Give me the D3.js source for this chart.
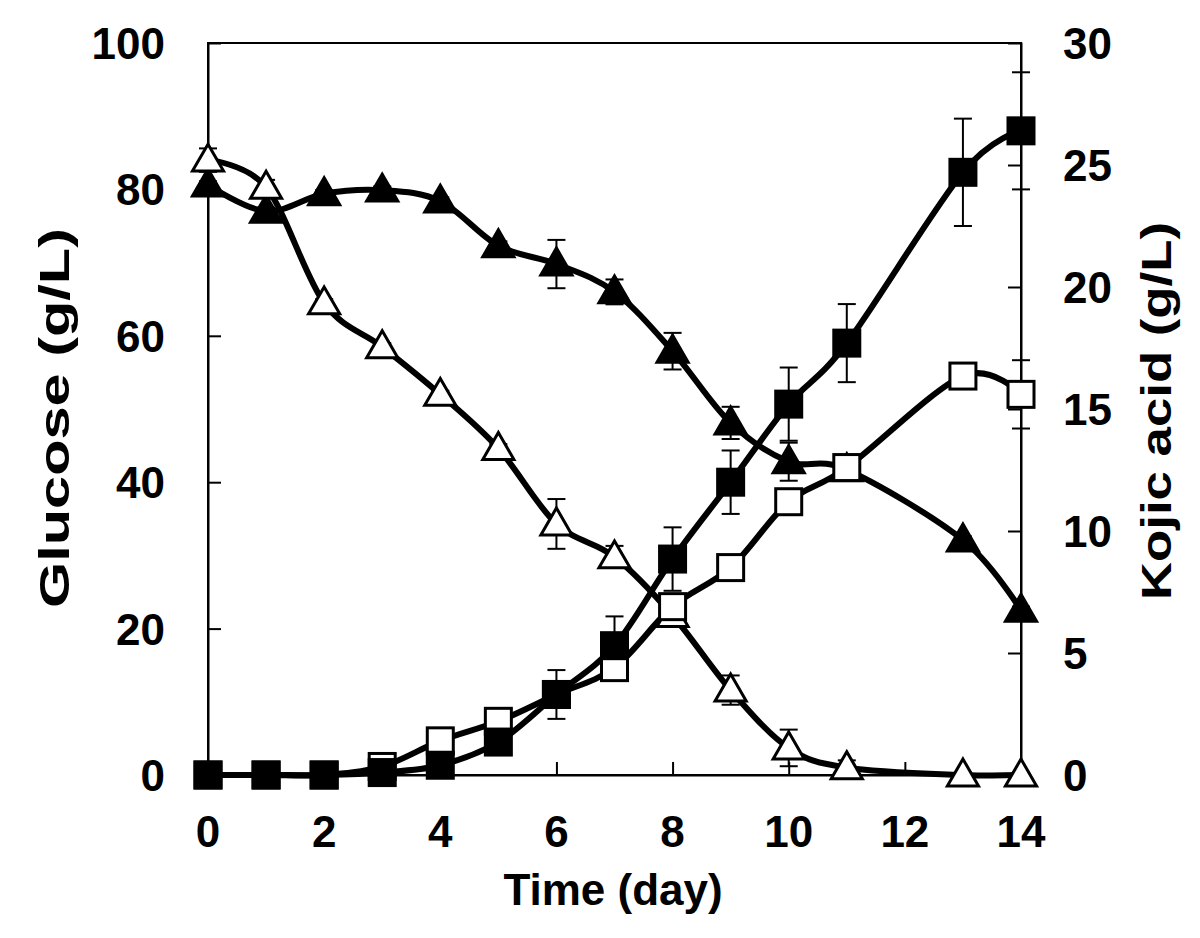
<!DOCTYPE html>
<html>
<head>
<meta charset="utf-8">
<script src="https://cdn.jsdelivr.net/npm/d3@7"></script>
<style>
  html, body { margin: 0; padding: 0; background: #fff; }
  svg { display: block; font-family: "Liberation Sans", Arial, sans-serif; font-weight: bold; }
</style>
</head>
<body>
<svg id="chart" width="1200" height="938"></svg>
<script>
// days sampled (no day 12)
const days = [0, 1, 2, 3, 4, 5, 6, 7, 8, 9, 10, 11, 13, 14];

// glucose (g/L), left axis
const glucoseFilled = [80.6, 77, 79.4, 79.9, 78.4, 72.3, 69.8, 66, 57.9, 48.1, 42.8, 41.7, 32.1, 22.5];
const glucoseFilledErr = [0.5, 0.5, 0.5, 0.5, 0.5, 0.6, 3.3, 1.7, 2.5, 2.2, 2.6, 0.5, 0.5, 0.5];
const glucoseOpen = [84, 80.3, 64.5, 58.5, 52, 44.6, 34.3, 29.8, 21.8, 11.6, 3.7, 1, 0, 0];
const glucoseOpenErr = [1.6, 1.0, 0.5, 0.5, 0.5, 0.6, 3.4, 1.5, 0.5, 2.0, 2.5, 1.0, 0.3, 0.3];

// kojic acid (g/L), right axis
const kojicFilled = [0, 0, 0, 0.1, 0.4, 1.35, 3.3, 5.3, 8.85, 12.0, 15.2, 17.7, 24.7, 26.4];
const kojicFilledErr = [0, 0, 0, 0, 0.1, 0.2, 1.0, 1.2, 1.3, 1.3, 1.5, 1.6, 2.2, 2.4];
const kojicOpen = [0, 0, 0, 0.35, 1.4, 2.2, 3.3, 4.4, 6.9, 8.5, 11.2, 12.6, 16.35, 15.6];
const kojicOpenErr = [0, 0, 0, 0.1, 0.1, 0.1, 0.3, 0.3, 0.3, 0.3, 0.3, 0.3, 0.3, 1.4];

const xTicks = [0, 2, 4, 6, 8, 10, 12, 14];
const leftTicks = [0, 20, 40, 60, 80, 100];
const rightTicks = [0, 5, 10, 15, 20, 25, 30];

const svg = d3.select("#chart");
const plotLeft = 208, plotRight = 1021, plotTop = 43, plotBottom = 775;

const x = d3.scaleLinear().domain([0, 14]).range([plotLeft, plotRight]);
const yL = d3.scaleLinear().domain([0, 100]).range([plotBottom, plotTop]);
const yR = d3.scaleLinear().domain([0, 30]).range([plotBottom, plotTop]);

// frame
svg.append("rect")
  .attr("x", plotLeft).attr("y", plotTop)
  .attr("width", plotRight - plotLeft).attr("height", plotBottom - plotTop)
  .attr("fill", "none").attr("stroke", "#000").attr("stroke-width", 2);

// axes, inward ticks
const fs = 44;
const gx = svg.append("g").attr("transform", `translate(0,${plotBottom})`)
  .call(d3.axisTop(x).tickValues(xTicks).tickSize(13).tickFormat(""));
const gl = svg.append("g").attr("transform", `translate(${plotLeft},0)`)
  .call(d3.axisRight(yL).tickValues(leftTicks.slice(1, -1)).tickSize(13).tickFormat(""));
const gr = svg.append("g").attr("transform", `translate(${plotRight},0)`)
  .call(d3.axisLeft(yR).tickValues(rightTicks.slice(1, -1)).tickSize(13).tickFormat(""));
[gx, gl, gr].forEach(g => {
  g.select(".domain").attr("stroke-width", 2);
  g.selectAll(".tick line").attr("stroke-width", 2);
});

// tick labels
svg.append("g").selectAll("text").data(xTicks).join("text")
  .attr("x", d => x(d)).attr("y", 847)
  .attr("text-anchor", "middle").attr("font-size", fs)
  .text(d => d);
svg.append("g").selectAll("text").data(leftTicks).join("text")
  .attr("x", 165).attr("y", d => yL(d) + 16)
  .attr("text-anchor", "end").attr("font-size", fs)
  .text(d => d);
svg.append("g").selectAll("text").data(rightTicks).join("text")
  .attr("x", 1063).attr("y", d => yR(d) + 16)
  .attr("text-anchor", "start").attr("font-size", fs)
  .text(d => d);

// axis titles
svg.append("text").attr("x", 613).attr("y", 905)
  .attr("text-anchor", "middle").attr("font-size", fs).text("Time (day)");
svg.append("text").attr("transform", "translate(69,418) rotate(-90)")
  .attr("text-anchor", "middle").attr("font-size", 42)
  .attr("textLength", 380).attr("lengthAdjust", "spacingAndGlyphs")
  .text("Glucose (g/L)");
svg.append("text").attr("transform", "translate(1171,411) rotate(-90)")
  .attr("text-anchor", "middle").attr("font-size", 42)
  .attr("textLength", 378).attr("lengthAdjust", "spacingAndGlyphs")
  .text("Kojic acid (g/L)");

// drawing order: filled triangles, open triangles, open squares, filled squares
const series = [
  { vals: glucoseFilled, err: glucoseFilledErr, y: yL, shape: "tri", fill: "#000" },
  { vals: glucoseOpen, err: glucoseOpenErr, y: yL, shape: "tri", fill: "#fff" },
  { vals: kojicOpen, err: kojicOpenErr, y: yR, shape: "sq", fill: "#fff" },
  { vals: kojicFilled, err: kojicFilledErr, y: yR, shape: "sq", fill: "#000" }
].map(s => ({ ...s, pts: days.map((d, i) => ({ d, v: s.vals[i], e: s.err[i] })) }));

const lineLayer = svg.append("g");
const errLayer = svg.append("g");
const markLayer = svg.append("g");
const triPath = d3.symbol().type(d3.symbolTriangle).size(420)();

series.forEach(s => {
  const line = d3.line().x(p => x(p.d)).y(p => s.y(p.v)).curve(d3.curveCardinal.tension(0));
  lineLayer.append("path").attr("d", line(s.pts))
    .attr("fill", "none").attr("stroke", "#000").attr("stroke-width", 6);

  const eb = errLayer.append("g").selectAll("g").data(s.pts.filter(p => p.e > 0)).join("g")
    .attr("stroke", "#000").attr("stroke-width", 2);
  eb.append("line").attr("x1", p => x(p.d)).attr("x2", p => x(p.d))
    .attr("y1", p => s.y(p.v - p.e)).attr("y2", p => s.y(p.v + p.e));
  eb.append("line").attr("x1", p => x(p.d) - 9).attr("x2", p => x(p.d) + 9)
    .attr("y1", p => s.y(p.v + p.e)).attr("y2", p => s.y(p.v + p.e));
  eb.append("line").attr("x1", p => x(p.d) - 9).attr("x2", p => x(p.d) + 9)
    .attr("y1", p => s.y(p.v - p.e)).attr("y2", p => s.y(p.v - p.e));

  const g = markLayer.append("g");
  if (s.shape === "sq") {
    g.selectAll("rect").data(s.pts).join("rect")
      .attr("x", p => x(p.d) - 13).attr("y", p => s.y(p.v) - 13)
      .attr("width", 26).attr("height", 26)
      .attr("fill", s.fill).attr("stroke", "#000").attr("stroke-width", 3);
  } else {
    g.selectAll("path").data(s.pts).join("path")
      .attr("d", triPath)
      .attr("transform", p => `translate(${x(p.d)},${s.y(p.v) + 2})`)
      .attr("fill", s.fill).attr("stroke", "#000").attr("stroke-width", 3);
  }
});
</script>
</body>
</html>
